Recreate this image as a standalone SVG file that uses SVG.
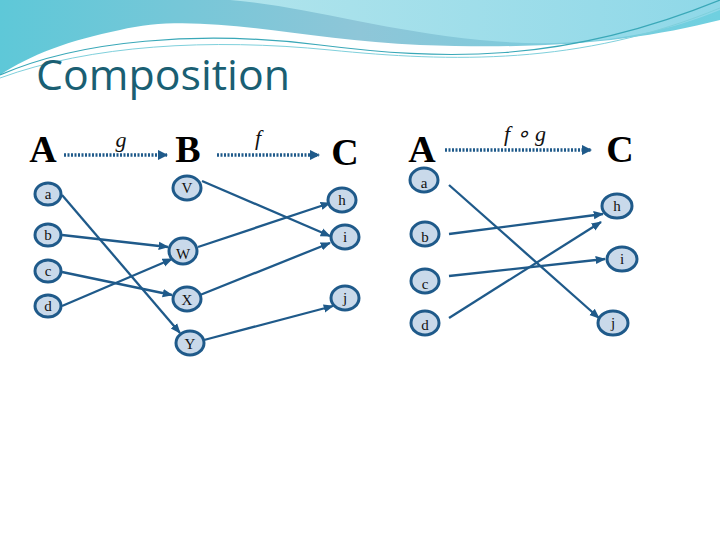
<svg xmlns="http://www.w3.org/2000/svg" width="720" height="540" viewBox="0 0 720 540">
<defs>
<linearGradient id="bg1" x1="0" y1="0" x2="1" y2="0"><stop offset="0" stop-color="#5ec8d8"/><stop offset="0.5" stop-color="#8ec6d8"/><stop offset="1" stop-color="#6fd0e0"/></linearGradient>
<linearGradient id="bg2" x1="0" y1="0" x2="1" y2="0"><stop offset="0" stop-color="#b0e4ec"/><stop offset="1" stop-color="#8fd8e8"/></linearGradient>
<marker id="ah" viewBox="0 0 10 10" refX="9" refY="5" markerWidth="4.5" markerHeight="4.5" orient="auto"><path d="M0,1 L10,5 L0,9 z" fill="#1f5a8a"/></marker>
<marker id="dh" viewBox="0 0 10 10" refX="9" refY="5" markerWidth="3" markerHeight="3" orient="auto"><path d="M0,0 L10,5 L0,10 z" fill="#1f5a8a"/></marker>
</defs>
<style>
.n ellipse{fill:#c9d9ea;stroke:#1f5a8a;stroke-width:3}
.n text{font-family:"Liberation Serif",serif;font-size:15px;fill:#111;text-anchor:middle}
.e line{stroke:#1f5a8a;stroke-width:2.3;marker-end:url(#ah)}
.d line{stroke:#1f5a8a;stroke-width:3.5;stroke-dasharray:2 1.5;marker-end:url(#dh)}
.H{font-family:"Liberation Serif",serif;font-weight:bold;font-size:38px;fill:#000;text-anchor:middle}
.L{font-family:"Liberation Serif",serif;font-style:italic;font-size:22px;fill:#111;text-anchor:middle}
</style>
<rect width="720" height="540" fill="#fff"/>
<path d="M0,0 H720 V20 C640,40 560,50 420,45 C300,40 200,10 120,30 C70,40 30,55 0,75 Z" fill="url(#bg1)"/>
<path d="M230,0 H720 V10 C660,35 580,50 480,40 C380,30 300,5 230,0 Z" fill="url(#bg2)"/>
<path d="M0,75 C80,40 200,30 320,45 C440,60 560,65 720,0" fill="none" stroke="#3aa8b8" stroke-width="1.2"/>
<path d="M0,78 C90,45 210,38 330,50 C450,62 580,66 720,8" fill="none" stroke="#7fd0dc" stroke-width="1"/>
<text x="36" y="90" font-family="Open Sans,sans-serif" font-size="42" fill="#1a5f73" textLength="254" lengthAdjust="spacingAndGlyphs">Composition</text>
<g id="headers">
<text class="H" x="43" y="162">A</text>
<text class="H" x="188" y="162">B</text>
<text class="H" x="345" y="165">C</text>
<text class="H" x="422" y="162">A</text>
<text class="H" x="620" y="162">C</text>
<text class="L" x="121" y="147">g</text>
<text class="L" x="258" y="145">f</text>
<text class="L" x="525" y="141">f ∘ g</text>
</g>
<g id="connectors">
<g class="d">
<line x1="64" y1="155" x2="167" y2="155"/>
<line x1="217" y1="155" x2="319" y2="155"/>
<line x1="445" y1="150" x2="591" y2="150"/>
</g>
<g class="e">
<line x1="62" y1="195" x2="180" y2="333"/>
<line x1="62" y1="235" x2="168" y2="247"/>
<line x1="62" y1="272" x2="172" y2="295"/>
<line x1="62" y1="306" x2="172" y2="259"/>
<line x1="202" y1="181" x2="330" y2="236"/>
<line x1="198" y1="247" x2="330" y2="203"/>
<line x1="200" y1="295" x2="330" y2="243"/>
<line x1="204" y1="340" x2="333" y2="306"/>
<line x1="449" y1="185" x2="599" y2="318"/>
<line x1="449" y1="234" x2="603" y2="214"/>
<line x1="449" y1="276" x2="605" y2="259"/>
<line x1="449" y1="318" x2="601" y2="222"/>
</g>
</g>
<g id="a" class="n"><ellipse cx="48" cy="194" rx="13" ry="11"/><text x="48" y="199">a</text></g>
<g id="b" class="n"><ellipse cx="48" cy="235" rx="13" ry="11"/><text x="48" y="240">b</text></g>
<g id="c" class="n"><ellipse cx="48" cy="271" rx="13" ry="11"/><text x="48" y="276">c</text></g>
<g id="d" class="n"><ellipse cx="48" cy="306" rx="13" ry="11"/><text x="48" y="311">d</text></g>
<g id="V" class="n"><ellipse cx="187" cy="188" rx="14" ry="12"/><text x="187" y="193">V</text></g>
<g id="W" class="n"><ellipse cx="183" cy="251" rx="14" ry="13"/><text x="183" y="259">W</text></g>
<g id="X" class="n"><ellipse cx="187" cy="299" rx="14" ry="12"/><text x="187" y="305">X</text></g>
<g id="Y" class="n"><ellipse cx="190" cy="343" rx="14" ry="12"/><text x="190" y="349">Y</text></g>
<g id="h" class="n"><ellipse cx="342" cy="200" rx="14" ry="12"/><text x="342" y="205">h</text></g>
<g id="i" class="n"><ellipse cx="345" cy="237" rx="14" ry="12"/><text x="345" y="242">i</text></g>
<g id="j" class="n"><ellipse cx="345" cy="298" rx="14" ry="12"/><text x="345" y="303">j</text></g>
<g id="a2" class="n"><ellipse cx="424" cy="180" rx="14" ry="12"/><text x="424" y="188">a</text></g>
<g id="b2" class="n"><ellipse cx="425" cy="234" rx="14" ry="12"/><text x="425" y="242">b</text></g>
<g id="c2" class="n"><ellipse cx="425" cy="281" rx="14" ry="12"/><text x="425" y="289">c</text></g>
<g id="d2" class="n"><ellipse cx="425" cy="323" rx="14" ry="12"/><text x="425" y="330">d</text></g>
<g id="h2" class="n"><ellipse cx="617" cy="206" rx="15" ry="12"/><text x="617" y="211">h</text></g>
<g id="i2" class="n"><ellipse cx="622" cy="259" rx="15" ry="12"/><text x="622" y="264">i</text></g>
<g id="j2" class="n"><ellipse cx="613" cy="323" rx="15" ry="12"/><text x="613" y="328">j</text></g>
</svg>
